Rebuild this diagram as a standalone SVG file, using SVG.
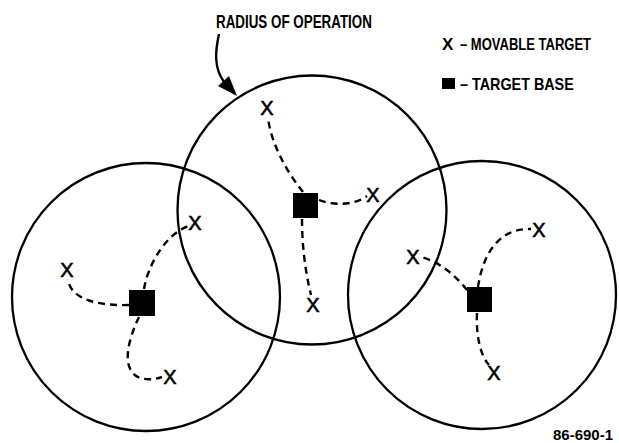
<svg xmlns="http://www.w3.org/2000/svg" width="619" height="443" viewBox="0 0 619 443">
<style>
.c{fill:none;stroke:#000;stroke-width:2.3}
.d{fill:none;stroke:#000;stroke-width:2.4;stroke-dasharray:7 5}
.x{font-family:"Liberation Sans",Arial,sans-serif;font-size:20px;fill:#000;stroke:#000;stroke-width:0.6;text-anchor:middle}
.t{font-family:"Liberation Sans",Arial,sans-serif;font-weight:bold;fill:#000}
.b{fill:#000}
</style>
<rect width="619" height="443" fill="#fff"/>
<g id="circle-left"><circle class="c" cx="146" cy="297" r="134"/></g>
<g id="circle-middle"><circle class="c" cx="312" cy="210" r="134.5"/></g>
<g id="circle-right"><circle class="c" cx="482" cy="295" r="134"/></g>
<g id="connectors">
<path class="d" d="M129,305 C100,306 70,300 68,279"/>
<path class="d" d="M144,289 C148,265 165,235 188,226"/>
<path class="d" d="M139,317 C128,340 120,370 140,378 Q150,381 162,377"/>
<path class="d" d="M303,192 C285,170 270,140 268,117"/>
<path class="d" d="M319,200 C335,206 355,205 367,196"/>
<path class="d" d="M302,219 C302,245 305,270 311,295"/>
<path class="d" d="M467,290 C455,275 440,262 421,257"/>
<path class="d" d="M478,287 C482,260 495,228 531,229"/>
<path class="d" d="M477,313 C476,335 480,355 489,365"/>
<path d="M219,34 C215,52 214,68 224,82" fill="none" stroke="#000" stroke-width="2.4"/>
<polygon points="237,96 218,86 229,76" fill="#000"/>
</g>
<g id="base-left"><rect class="b" x="129" y="290" width="26" height="26"/></g>
<g id="base-middle"><rect class="b" x="293" y="193" width="25" height="25"/></g>
<g id="base-right"><rect class="b" x="467" y="287" width="25" height="25"/></g>
<g id="targets">
<text class="x" x="67" y="277">X</text>
<text class="x" x="195" y="230">X</text>
<text class="x" x="170" y="384">X</text>
<text class="x" x="267" y="115">X</text>
<text class="x" x="373" y="202">X</text>
<text class="x" x="313" y="312">X</text>
<text class="x" x="413" y="264">X</text>
<text class="x" x="539" y="237">X</text>
<text class="x" x="494" y="380">X</text>
</g>
<g id="label-radius"><text class="t" font-size="19" transform="translate(216,28) scale(0.705,1)">RADIUS OF OPERATION</text></g>
<g id="legend">
<text class="t" x="442" y="50" font-size="17">X</text>
<text class="t" font-size="16" transform="translate(460,50) scale(0.813,1)">– MOVABLE TARGET</text>
<rect class="b" x="442" y="78" width="13" height="11"/>
<text class="t" font-size="16" transform="translate(460,90) scale(0.898,1)">– TARGET BASE</text>
</g>
<g id="figure-number"><text class="t" x="553" y="440" font-size="15">86-690-1</text></g>
</svg>
